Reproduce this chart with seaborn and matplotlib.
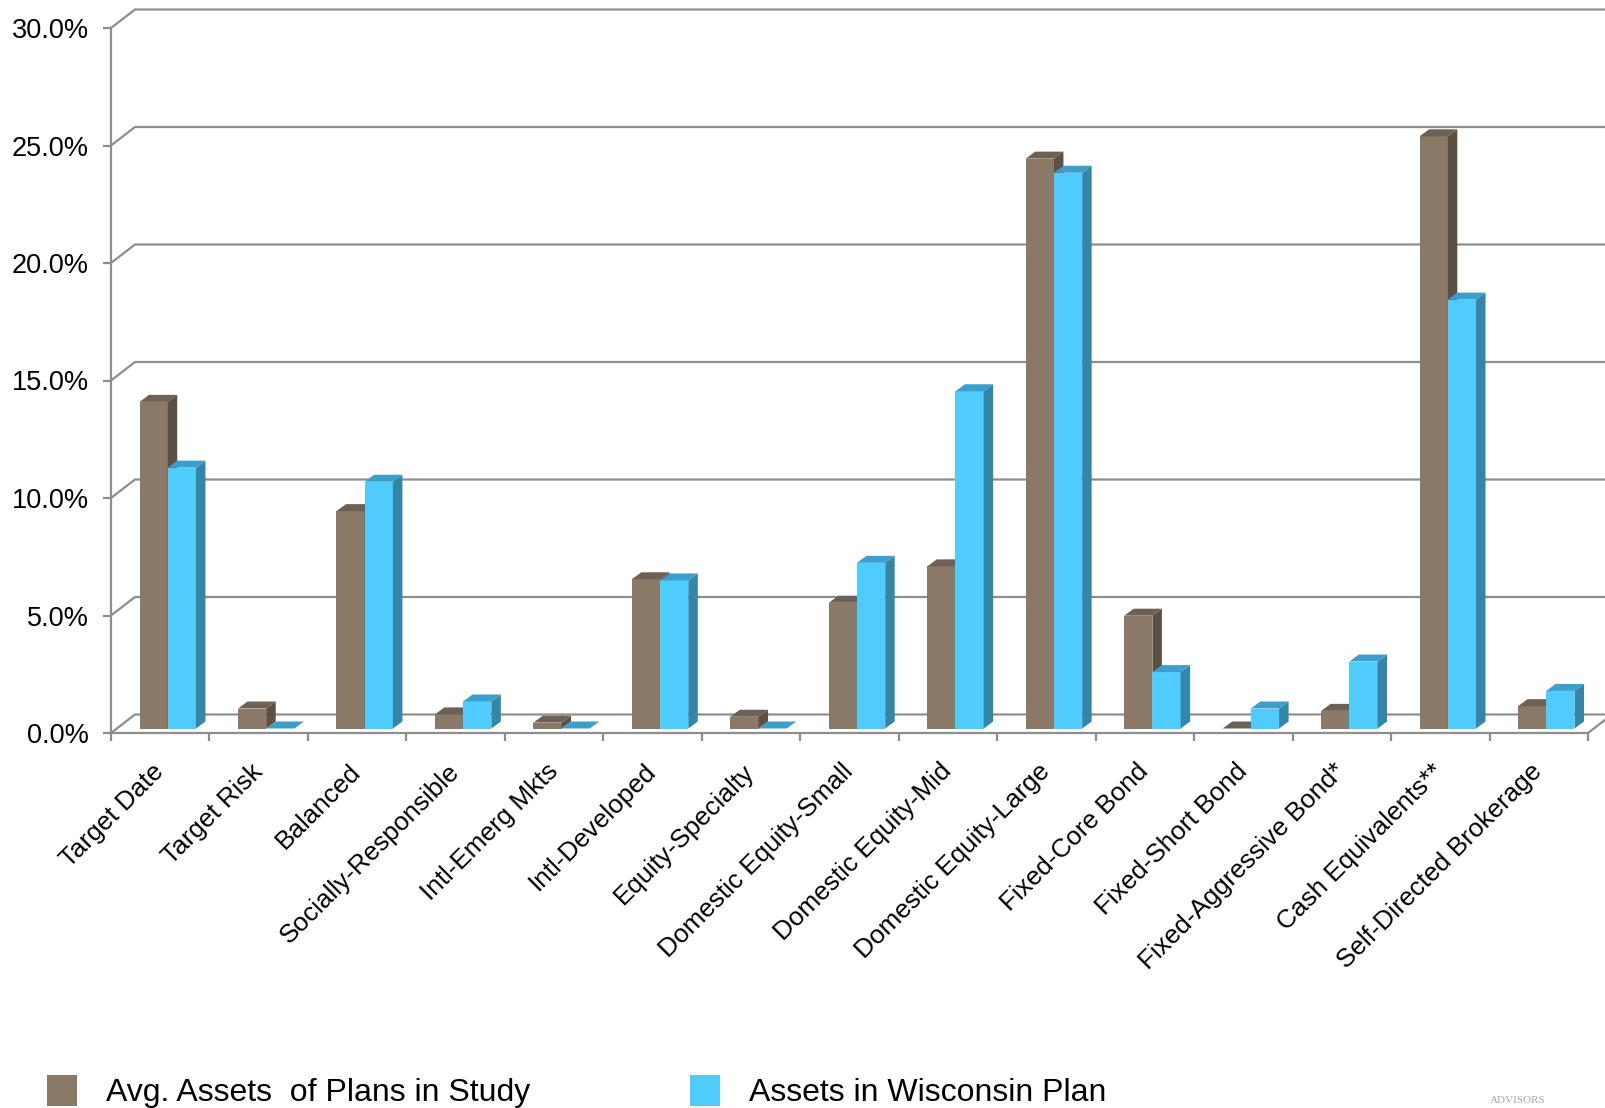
import numpy as np
import pandas as pd
import seaborn as sns
import matplotlib.pyplot as plt
from matplotlib.patches import Polygon, Patch

# ---- data -------------------------------------------------------------
categories = [
    "Target Date", "Target Risk", "Balanced", "Socially-Responsible",
    "Intl-Emerg Mkts", "Intl-Developed", "Equity-Specialty",
    "Domestic Equity-Small", "Domestic Equity-Mid", "Domestic Equity-Large",
    "Fixed-Core Bond", "Fixed-Short Bond", "Fixed-Aggressive Bond*",
    "Cash Equivalents**", "Self-Directed Brokerage",
]
avg_assets_study = [13.9, 0.85, 9.25, 0.6, 0.25, 6.35, 0.5, 5.35, 6.9, 24.25,
                    4.8, 0.0, 0.75, 25.2, 0.95]
assets_wisconsin = [11.1, 0.0, 10.5, 1.15, 0.0, 6.3, 0.0, 7.05, 14.35, 23.65,
                    2.4, 0.85, 2.85, 18.25, 1.6]
series_names = ["Avg. Assets  of Plans in Study", "Assets in Wisconsin Plan"]
y_ticks = [0, 5, 10, 15, 20, 25, 30]

# face colours: front, side, top
front_colors = ["#8B7967", "#50CBFE"]
side_colors = ["#5C5045", "#3485A8"]
top_colors = ["#6D6054", "#3C9FCB"]
grid_color = "#8E8E8E"

df = pd.DataFrame({
    "category": categories * 2,
    "value": avg_assets_study + assets_wisconsin,
    "series": [series_names[0]] * len(categories) + [series_names[1]] * len(categories),
})

sns.set_theme(style="white")
plt.rcParams["font.family"] = ["Liberation Sans", "DejaVu Sans"]
plt.rcParams["text.color"] = "black"

W, H = 1605, 1108
fig = plt.figure(figsize=(W / 100, H / 100), dpi=100)
ax_left, ax_right, ax_top, ax_bottom = 111, 1588, 28, 733
ax = fig.add_axes([ax_left / W, (H - ax_bottom) / H,
                   (ax_right - ax_left) / W, (ax_bottom - ax_top) / H])

sns.barplot(data=df, x="category", y="value", hue="series",
            palette=front_colors, width=0.573, saturation=1,
            errorbar=None, legend=False, ax=ax, linewidth=0)

n = len(categories)
ax.set_xlim(-0.5, n - 0.5)
ax.set_ylim(0, 30)


def px(dx, dy):
    """Convert a pixel offset into data units."""
    inv = ax.transData.inverted()
    o = ax.transData.transform((0, 0))
    p = inv.transform((o[0] + dx, o[1] + dy))
    return p[0], p[1]


wall_dx, wall_dy = px(24, 18.5)      # depth of the back wall
front_dx, front_dy = px(7.5, 4.5)    # front plane of the columns
bar_dx, bar_dy = px(9.5, 7)          # depth of a column

# ---- walls and gridlines ----------------------------------------------
x0, x1 = -0.5, n - 0.5
for v in y_ticks:
    ax.plot([x0, x0 + wall_dx, x1 + wall_dx], [v, v + wall_dy, v + wall_dy],
            color=grid_color, lw=1.6, clip_on=False, zorder=1,
            solid_joinstyle="miter")
ax.plot([x1, x1 + wall_dx], [0, wall_dy], color=grid_color, lw=1.6,
        clip_on=False, zorder=1)

# ---- 3D columns -------------------------------------------------------
bars = sorted(ax.patches, key=lambda p: p.get_x())
for i, p in enumerate(bars):
    x, w, h = p.get_x(), p.get_width(), p.get_height()
    cat = int(round(x + w / 2))
    k = 0 if x + w / 2 < cat else 1
    xs, ys = x + front_dx, front_dy
    p.set_x(xs)
    p.set_y(ys)
    p.set_facecolor(front_colors[k])
    p.set_zorder(5 + 3 * i)
    side = Polygon([(xs + w, ys), (xs + w + bar_dx, ys + bar_dy),
                    (xs + w + bar_dx, ys + h + bar_dy), (xs + w, ys + h)],
                   closed=True, facecolor=side_colors[k], edgecolor="none",
                   zorder=5 + 3 * i + 1)
    top = Polygon([(xs, ys + h), (xs + w, ys + h),
                   (xs + w + bar_dx, ys + h + bar_dy), (xs + bar_dx, ys + h + bar_dy)],
                  closed=True, facecolor=top_colors[k], edgecolor="none",
                  zorder=5 + 3 * i + 2)
    ax.add_patch(side)
    ax.add_patch(top)

# ---- axes -------------------------------------------------------------
for s in ["top", "right"]:
    ax.spines[s].set_visible(False)
for s in ["left", "bottom"]:
    ax.spines[s].set_color(grid_color)
    ax.spines[s].set_linewidth(1.6)
    ax.spines[s].set_zorder(2)

ax.set_yticks(y_ticks)
ax.set_yticklabels([f"{v:.1f}%" for v in y_ticks], fontsize=19.5, color="black")
ax.tick_params(axis="y", direction="out", length=6, width=1.6,
               color=grid_color, pad=10, left=True)

ax.set_xticks(range(n))
ax.set_xticklabels(categories, rotation=45, ha="right",
                   rotation_mode="anchor", fontsize=18.8, color="black")
ax.tick_params(axis="x", which="major", length=0, pad=25)
ax.set_xticks(np.arange(-0.5, n, 1.0), minor=True)
ax.tick_params(axis="x", which="minor", direction="out", length=6,
               width=1.6, color=grid_color, bottom=True)
for lbl in ax.get_xticklabels():
    lbl.set_va("center")

ax.set_xlabel("")
ax.set_ylabel("")
ax.grid(False)

# ---- legend -----------------------------------------------------------
handles = [Patch(facecolor=front_colors[0], edgecolor="none"),
           Patch(facecolor=front_colors[1], edgecolor="none")]
leg = fig.legend(handles, series_names, loc="upper left",
                 bbox_to_anchor=(47 / W, 1 - 1075 / H), ncol=2, frameon=False,
                 fontsize=23, handlelength=0.95, handleheight=1.1,
                 handletextpad=0.9, columnspacing=5.0, borderpad=0,
                 borderaxespad=0)
for t in leg.get_texts():
    t.set_color("black")

fig.text(1490 / W, 1 - 1096 / H, "ADVISORS", va="top", ha="left",
         color="#A8A8A8", fontsize=8, family="Liberation Serif")

fig.savefig("out.png", dpi=100)
